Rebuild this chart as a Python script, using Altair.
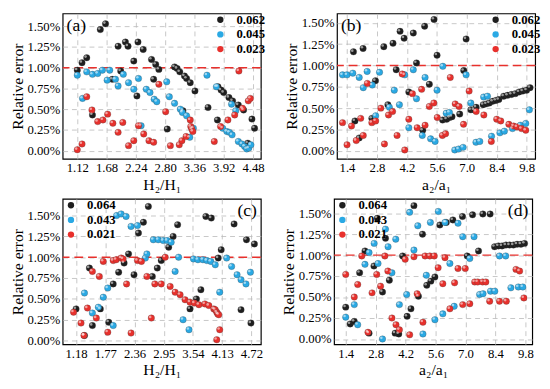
import altair as alt
import pandas as pd

FONT = "Liberation Serif"
BLACK = "#1e1e1e"
BLUE = "#2aa9e4"
RED = "#e8302c"

# ---------------- Panel (a) ----------------
a_names = ["0.062", "0.045", "0.023"]
a_s1_x = [1.12, 1.21, 1.30, 1.41, 1.56, 1.66, 1.79, 1.90, 1.95, 2.04, 2.09, 2.20, 2.26, 2.28, 2.38, 2.54, 2.58, 2.62, 2.68, 2.84,
          2.98, 3.03, 3.08, 3.14, 3.17, 3.21, 3.28, 3.37, 3.62, 3.80, 3.81, 3.87, 3.92, 4.02, 4.09, 4.20, 4.30, 4.38, 4.46, 4.51]
a_s1_y = [0.97, 1.06, 1.12, 0.43, 1.46, 1.53, 0.86, 1.26, 0.96, 1.31, 1.26, 1.08, 0.66, 1.31, 1.22, 1.10, 0.86, 1.04, 0.98, 0.26,
          1.01, 0.99, 0.95, 0.48, 0.90, 0.87, 0.82, 0.72, 0.52, 0.37, 0.77, 0.73, 0.70, 0.64, 0.60, 0.55, 0.49, 0.09, 0.38, 0.27]
a_s2_x = [1.12, 1.22, 1.30, 1.41, 1.51, 1.60, 1.69, 1.74, 1.85, 1.90, 2.00, 2.10, 2.20, 2.29, 2.34, 2.44, 2.51, 2.59, 2.64, 2.83,
          2.88, 2.98, 3.09, 3.13, 3.21, 3.27, 3.34, 3.60, 3.78, 3.90, 3.98, 4.03, 4.08, 4.07, 4.15, 4.20, 4.27, 4.32, 4.36, 4.40, 4.44]
a_s2_y = [0.91, 0.63, 0.95, 0.92, 0.93, 0.97, 0.85, 0.97, 0.86, 0.78, 0.92, 0.82, 0.74, 0.87, 0.30, 0.74, 0.70, 0.62, 0.59, 0.83,
          0.65, 0.57, 0.50, 0.46, 0.42, 0.16, 0.27, 0.91, 0.77, 0.27, 0.23, 0.22, 0.19, 0.56, 0.48, 0.11, 0.08, 0.05, 0.02, 0.03, 0.07]
a_s3_x = [1.12, 1.21, 1.30, 1.40, 1.51, 1.61, 1.70, 1.80, 1.90, 1.99, 2.10, 2.20, 2.29, 2.39, 2.49, 2.58, 2.68, 2.81, 2.90, 3.07,
          3.12, 3.20, 3.28, 3.29, 3.31, 3.33, 3.74, 3.86, 4.00, 4.13, 4.21, 4.28, 4.39, 4.43]
a_s3_y = [0.01, 0.08, 0.65, 0.49, 0.35, 0.37, 0.44, 0.33, 0.22, 0.34, 0.06, 0.12, 0.30, 0.20, 0.12, 0.10, 0.80, 0.47, 0.06, 0.07,
          0.12, 0.17, 0.37, 0.29, 0.26, 0.23, 0.11, 0.29, 0.37, 0.43, 0.96, 0.51, 0.60, 0.63]

# ---------------- Panel (b) ----------------
b_names = ["0.062", "0.045", "0.023"]
b_s1_x = [1.70, 1.77, 1.97, 2.15, 2.56, 2.73, 3.12, 3.31, 3.55, 3.70, 3.88, 4.07, 4.29, 4.50, 4.65, 4.94, 5.03, 5.25, 5.47, 5.61,
          5.87, 6.06, 6.20, 6.31, 6.67, 6.86, 6.97, 7.19, 7.34, 7.44, 7.77, 7.92, 8.06, 8.21, 8.36, 8.50,
          8.73, 8.91, 9.09, 9.27, 9.45, 9.62, 9.80, 9.96]
b_s1_y = [1.16, 0.35, 0.15, 1.20, 0.38, 0.82, 1.22, 0.54, 1.26, 0.95, 1.40, 1.32, 0.69, 1.38, 1.03, 0.24, 1.46, 0.78, 1.54, 1.12,
          0.36, 0.37, 0.39, 0.40, 0.43, 0.94, 1.31, 0.48, 0.48, 0.51, 0.54, 0.55, 0.56, 0.58, 0.59, 0.60,
          0.64, 0.65, 0.66, 0.67, 0.69, 0.70, 0.71, 0.74]
b_s2_x = [1.19, 1.40, 1.67, 1.97, 2.16, 2.34, 2.58, 2.74, 2.92, 3.38, 3.61, 3.85, 4.10, 4.29, 4.50, 4.65, 4.92, 5.05, 5.31, 5.52,
          5.61, 5.88, 6.04, 6.19, 6.44, 6.62, 6.83, 6.97, 7.19, 7.43, 7.61, 7.79, 7.97, 8.16, 8.55, 8.76, 9.14, 9.51, 9.76, 9.93]
b_s2_y = [0.89, 0.89, 0.91, 0.86, 0.74, 0.93, 0.77, 0.41, 0.92, 0.51, 0.71, 0.54, 0.89, 0.27, 0.95, 0.61, 0.18, 0.86, 0.14, 0.11,
          0.71, 0.99, 0.44, 0.45, 0.01, 0.02, 0.04, 0.89, 0.56, 0.10, 0.11, 0.63, 0.64, 0.17, 0.21, 0.23, 0.26, 0.30, 0.32, 0.48]
b_s3_x = [1.19, 1.40, 1.61, 1.83, 2.04, 2.16, 2.35, 2.56, 2.74, 2.98, 3.15, 3.34, 3.53, 3.74, 3.98, 4.10, 4.29, 4.46, 4.68, 4.89,
          5.05, 5.25, 5.46, 5.62, 5.86, 6.01, 6.23, 6.46, 6.64, 6.85, 7.11, 7.44, 7.80, 8.15, 8.40, 8.59, 8.97, 9.19, 9.35, 9.56, 9.76]
b_s3_y = [0.33, 0.07, 0.29, 0.12, 0.38, 0.18, 0.79, 0.33, 0.35, 0.50, 0.08, 0.42, 0.46, 0.18, 0.90, 0.01, 0.37, 0.67, 0.27, 0.72,
          0.30, 0.52, 0.56, 0.39, 0.18, 0.20, 0.86, 0.55, 0.52, 0.31, 0.70, 0.46, 0.42, 0.11, 0.37, 0.35, 0.31, 0.29, 0.28, 0.26, 0.24]

# ---------------- Panel (c) ----------------
c_names = ["0.064", "0.043", "0.021"]
c_s1_x = [1.18, 1.35, 1.45, 1.51, 1.67, 1.84, 1.93, 2.04, 2.15, 2.24, 2.35, 2.44, 2.54, 2.64, 2.72, 2.82, 2.90, 3.05, 3.14, 3.23,
          3.48, 3.61, 3.70, 3.80, 3.91, 4.05, 4.11, 4.37, 4.51, 4.62, 4.71, 4.78]
c_s1_y = [0.38, 0.06, 0.87, 0.18, 0.38, 0.22, 0.68, 0.82, 0.93, 1.04, 0.79, 1.29, 1.42, 1.61, 0.77, 0.87, 0.96, 1.12, 1.25, 1.39,
          0.38, 0.50, 0.61, 1.49, 1.47, 0.99, 1.09, 1.40, 0.37, 1.21, 0.21, 1.16]
c_s2_x = [1.35, 1.51, 1.63, 1.73, 1.82, 1.93, 2.00, 2.09, 2.19, 2.29, 2.42, 2.58, 2.61, 2.74, 2.84, 2.94, 3.02, 3.10, 3.18, 3.25,
          3.34, 3.46, 3.55, 3.64, 3.74, 3.82, 3.90, 3.99, 4.08, 4.22, 4.32, 4.43, 4.51, 4.61, 4.70]
c_s2_y = [0.57, 0.33, 0.40, 0.52, 0.63, 0.18, 1.50, 1.52, 1.49, 1.37, 1.38, 0.99, 1.04, 1.21, 1.21, 1.20, 1.20, 1.18, 0.83, 1.00,
          0.25, 0.13, 0.98, 0.97, 0.97, 0.96, 0.95, 0.91, 0.58, 0.99, 0.89, 0.79, 0.73, 0.68, 0.82]
c_s3_x = [1.13, 1.28, 1.34, 1.41, 1.51, 1.59, 1.65, 1.73, 1.82, 1.93, 1.99, 2.09, 2.13, 2.20, 2.29, 2.42, 2.50, 2.61, 2.70, 2.77,
          2.90, 2.98, 3.08, 3.18, 3.28, 3.38, 3.48, 3.57, 3.66, 3.78, 3.86, 3.96, 3.99, 4.02, 4.04, 4.06, 4.02, 4.08]
c_s3_y = [0.34, 0.21, 0.06, 0.39, 0.83, 0.27, 0.77, 0.95, 0.10, 0.96, 0.97, 0.99, 0.98, 0.68, 0.09, 0.96, 0.95, 0.77, 0.27, 0.68,
          0.68, 1.00, 0.65, 0.58, 0.55, 0.49, 0.46, 0.45, 0.43, 0.44, 0.42, 0.38, 0.37, 0.34, 0.32, 0.31, 0.01, 0.13]

# ---------------- Panel (d) ----------------
d_names = ["0.064", "0.043", "0.021"]
d_s1_x = [1.40, 1.61, 1.80, 2.05, 2.30, 2.49, 2.72, 2.88, 3.12, 3.26, 3.44, 3.71, 3.88, 4.06, 4.27, 4.45, 4.59, 4.80, 4.99, 5.19,
          5.38, 5.57, 5.80, 6.10, 6.41, 6.86, 7.08, 7.33, 7.61, 7.81, 8.15,
          8.36, 8.54, 8.71, 8.89, 9.06, 9.24, 9.41, 9.59, 9.76]
d_s1_y = [0.38, 0.18, 0.21, 0.79, 1.05, 0.07, 0.87, 1.44, 0.56, 1.20, 0.70, 0.07, 0.06, 0.99, 0.27, 0.36, 1.59, 0.51, 1.25, 0.64,
          0.69, 0.74, 1.36, 1.39, 1.42, 1.46, 0.99, 1.48, 1.05, 1.49, 1.49,
          1.10, 1.11, 1.11, 1.12, 1.12, 1.12, 1.13, 1.13, 1.14]
d_s2_x = [1.40, 1.80, 1.96, 2.30, 2.49, 2.73, 2.91, 3.12, 3.26, 3.38, 3.56, 3.74, 3.91, 4.25, 4.39, 4.59, 4.77, 5.01, 5.17, 5.36,
          5.57, 5.73, 5.94, 6.04, 6.27, 6.47, 6.65, 6.87, 7.20, 7.40, 7.66, 7.82, 8.17, 8.37, 8.59, 8.88, 9.12, 9.47, 9.68]
d_s2_y = [0.26, 0.41, 0.17, 0.89, 1.03, 1.14, 0.90, 0.00, 1.31, 1.10, 0.79, 1.19, 0.41, 0.53, 1.51, 1.06, 1.35, 0.06, 0.76, 1.39,
          0.23, 1.52, 0.30, 1.39, 0.90, 0.39, 1.38, 1.22, 0.96, 1.22, 0.53, 0.54, 0.57, 0.57, 0.99, 0.99, 0.61, 0.62, 0.62]
d_s3_x = [1.40, 1.80, 1.96, 2.15, 2.44, 2.63, 2.85, 3.03, 3.23, 3.37, 3.56, 3.75, 3.91, 4.18, 4.39, 4.59, 4.74, 5.01, 5.11, 5.33,
          5.54, 5.72, 5.94, 6.04, 6.27, 6.49, 6.65, 6.87, 6.99, 7.20, 7.43, 7.57, 7.80, 7.95, 8.13, 8.59, 8.91, 9.36, 9.53, 9.73]
d_s3_y = [0.77, 0.50, 0.65, 0.99, 0.08, 0.55, 0.77, 0.63, 0.99, 0.81, 0.25, 0.17, 0.11, 0.95, 0.05, 0.98, 0.54, 0.20, 0.99, 0.99,
          0.99, 0.85, 0.66, 0.97, 0.36, 0.67, 0.84, 0.41, 0.84, 0.42, 0.68, 0.68, 0.68, 0.68, 0.45, 0.45, 0.45, 0.83, 0.81, 0.49]

y_ticks = [0.0, 0.25, 0.5, 0.75, 1.0, 1.25, 1.5]
threshold = [1.0]
ticks_H_a = [1.12, 1.68, 2.24, 2.80, 3.36, 3.92, 4.48]
ticks_H_c = [1.18, 1.77, 2.36, 2.95, 3.54, 4.13, 4.72]
ticks_a = [1.4, 2.8, 4.2, 5.6, 7.0, 8.4, 9.8]

W = 203
H = 149


def panel(names, series, xdom, ydom, xticks, xfmt, xtitle, tag, tag_right, leg_x, leg_y):
    rows = []
    for name, (xs, ys) in zip(names, series):
        for xv, yv in zip(xs, ys):
            rows.append({"x": xv, "y": yv, "s": name})
    df = pd.DataFrame(rows)
    xenc = alt.X("x:Q", scale=alt.Scale(domain=xdom, nice=False, zero=False),
                 axis=alt.Axis(values=xticks, tickCount=20, format=xfmt, title=xtitle, titleFontWeight=400,
                               labelOverlap=False, labelFlush=False))
    yenc = alt.Y("y:Q", scale=alt.Scale(domain=ydom, nice=False, zero=False),
                 axis=alt.Axis(values=y_ticks, tickCount=20, labelExpr="format(datum.value, '.2f') + '%'",
                               title="Relative error", titleFontWeight=400,
                               labelOverlap=False, labelFlush=False))
    pts = alt.Chart(df).mark_circle(size=44, opacity=1, stroke="#444444", strokeWidth=0.3, clip=True).encode(
        x=xenc, y=yenc,
        color=alt.Color("s:N", scale=alt.Scale(domain=names, range=[BLACK, BLUE, RED]),
                        legend=alt.Legend(orient="none", legendX=leg_x, legendY=leg_y, title=None)),
    )
    shine = alt.Chart(df).mark_circle(size=7, color="white", opacity=0.55, xOffset=-1.2, yOffset=-1.2,
                                      clip=True).encode(x="x:Q", y="y:Q")
    rule = alt.Chart(pd.DataFrame({"y": threshold})).mark_rule(
        color=RED, strokeDash=[9, 5], strokeWidth=1.5
    ).encode(y="y:Q")
    if tag_right:
        lab = alt.Chart(pd.DataFrame({"t": [tag]})).mark_text(
            font=FONT, fontSize=18, align="right", baseline="middle", color="black"
        ).encode(text="t:N", x=alt.value(W - 4), y=alt.value(13))
    else:
        lab = alt.Chart(pd.DataFrame({"t": [tag]})).mark_text(
            font=FONT, fontSize=18, align="left", baseline="middle", color="black"
        ).encode(text="t:N", x=alt.value(4), y=alt.value(13))
    return alt.layer(rule, pts, shine, lab).properties(width=W, height=H)


pa = panel(a_names, [(a_s1_x, a_s1_y), (a_s2_x, a_s2_y), (a_s3_x, a_s3_y)],
           [0.84, 4.63], [-0.1, 1.655], ticks_H_a, ".2f", "H₂/H₁", "(a)", False, W - 48, 0)
pb = panel(b_names, [(b_s1_x, b_s1_y), (b_s2_x, b_s2_y), (b_s3_x, b_s3_y)],
           [0.93, 10.2], [-0.095, 1.61], ticks_a, ".1f", "a₂/a₁", "(b)", False, W - 47, 0)
pc = panel(c_names, [(c_s1_x, c_s1_y), (c_s2_x, c_s2_y), (c_s3_x, c_s3_y)],
           [0.91, 4.91], [-0.046, 1.70], ticks_H_c, ".2f", "H₂/H₁", "(c)", True, 2, 0)
pd_ = panel(d_names, [(d_s1_x, d_s1_y), (d_s2_x, d_s2_y), (d_s3_x, d_s3_y)],
            [0.855, 10.12], [-0.064, 1.67], ticks_a, ".1f", "a₂/a₁", "(d)", True, 2, 0)

top = alt.hconcat(pa, pb, spacing=16).resolve_scale(color="independent")
bottom = alt.hconcat(pc, pd_, spacing=16).resolve_scale(color="independent")

chart = alt.vconcat(top, bottom, spacing=5).resolve_scale(color="independent").properties(
    padding={"left": 0, "right": 0, "top": 0, "bottom": 0}
).configure_view(
    stroke="black", strokeWidth=1.2
).configure_axis(
    grid=True, gridDash=[5, 4], gridColor="#b8b8b8", gridWidth=0.8,
    domain=False, ticks=False, labelOverlap=False,
    labelFont=FONT, labelFontSize=13, labelColor="black", labelPadding=3,
    titleFont=FONT, titleFontSize=16, titleFontWeight=400, titleColor="black",
    titlePadding=2
).configure_legend(
    labelFont=FONT, labelFontSize=13, labelFontWeight="bold", labelColor="black",
    symbolSize=42, symbolType="circle", symbolStrokeWidth=0, symbolOpacity=1,
    labelOffset=10, rowPadding=1, padding=0
)

chart.save("out.html", embed_options={"renderer": "svg", "actions": False})
